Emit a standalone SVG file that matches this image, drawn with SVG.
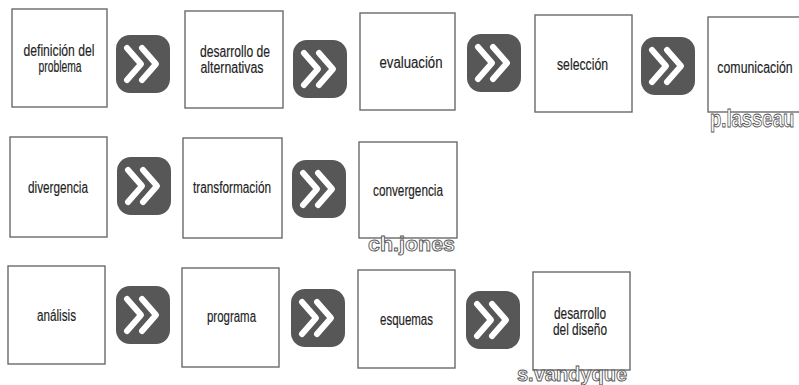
<svg xmlns="http://www.w3.org/2000/svg" width="799" height="385" viewBox="0 0 799 385">
<style>
.box{fill:#fff;stroke:#6a6a6a;stroke-width:1.4}
.t{font-family:"Liberation Sans",Arial,sans-serif;font-size:16px;fill:#222;stroke:#222;stroke-width:0.15;text-anchor:middle}
.ab{fill:#575757}
.ch{fill:none;stroke:#fff;stroke-width:6;stroke-linecap:round;stroke-linejoin:round}
.sig{font-family:"Liberation Sans",Arial,sans-serif;font-weight:bold;fill:#fff;stroke:#555;stroke-width:0.9}
</style>
<defs>
<g id="arrow">
<rect class="ab" x="0" y="0" width="54" height="58" rx="14"/>
<polyline class="ch" points="11,13 25,29 11,45"/>
<polyline class="ch" points="26,13 40,29 26,45"/>
</g>
</defs>
<rect width="799" height="385" fill="#fff"/>
<g id="connectors">
<use href="#arrow" x="116" y="35"/>
<use href="#arrow" x="293" y="40"/>
<use href="#arrow" x="467" y="34"/>
<use href="#arrow" x="641" y="37"/>
<use href="#arrow" x="117" y="157"/>
<use href="#arrow" x="292" y="160"/>
<use href="#arrow" x="116" y="286"/>
<use href="#arrow" x="291" y="289"/>
<use href="#arrow" x="466" y="291"/>
</g>
<g id="n1"><rect class="box" x="12" y="9" width="95" height="98"/><text class="t" x="59" y="56" textLength="71" lengthAdjust="spacingAndGlyphs">definición del</text><text class="t" x="60" y="72" textLength="43" lengthAdjust="spacingAndGlyphs">problema</text></g>
<g id="n2"><rect class="box" x="185" y="11" width="98" height="97"/><text class="t" x="235" y="57" textLength="70" lengthAdjust="spacingAndGlyphs">desarrollo de</text><text class="t" x="232" y="73" textLength="63" lengthAdjust="spacingAndGlyphs">alternativas</text></g>
<g id="n3"><rect class="box" x="360" y="13" width="95" height="97"/><text class="t" x="411" y="68" textLength="63" lengthAdjust="spacingAndGlyphs">evaluación</text></g>
<g id="n4"><rect class="box" x="535" y="15" width="97" height="97"/><text class="t" x="582.5" y="70" textLength="51" lengthAdjust="spacingAndGlyphs">selección</text></g>
<g id="n5"><rect class="box" x="708" y="17" width="100" height="95"/><text class="t" transform="translate(755,73) scale(0.77,1)">comunicación</text><text class="sig" transform="translate(710,127) scale(0.77,1)" font-size="24">p.lasseau</text></g>
<g id="n6"><rect class="box" x="10" y="137" width="97" height="100"/><text class="t" x="58" y="193" textLength="60" lengthAdjust="spacingAndGlyphs">divergencia</text></g>
<g id="n7"><rect class="box" x="183" y="138" width="99" height="100"/><text class="t" x="232" y="193" textLength="78" lengthAdjust="spacingAndGlyphs">transformación</text></g>
<g id="n8"><rect class="box" x="359" y="142" width="98" height="96"/><text class="t" x="408" y="196" textLength="70" lengthAdjust="spacingAndGlyphs">convergencia</text><text class="sig" x="368" y="251" font-size="21" textLength="87" lengthAdjust="spacingAndGlyphs">ch.jones</text></g>
<g id="n9"><rect class="box" x="8" y="266" width="97" height="98"/><text class="t" x="56.5" y="321" textLength="39" lengthAdjust="spacingAndGlyphs">análisis</text></g>
<g id="n10"><rect class="box" x="182" y="268" width="97" height="99"/><text class="t" x="231.5" y="322" textLength="49" lengthAdjust="spacingAndGlyphs">programa</text></g>
<g id="n11"><rect class="box" x="358" y="270" width="97" height="98"/><text class="t" x="406.5" y="325" textLength="53" lengthAdjust="spacingAndGlyphs">esquemas</text></g>
<g id="n12"><rect class="box" x="533" y="272" width="97" height="98"/><text class="t" x="580" y="319" textLength="52" lengthAdjust="spacingAndGlyphs">desarrollo</text><text class="t" x="580" y="335" textLength="54" lengthAdjust="spacingAndGlyphs">del diseño</text><text class="sig" x="517" y="381" font-size="21" textLength="110" lengthAdjust="spacingAndGlyphs">s.vandyque</text></g>
</svg>
